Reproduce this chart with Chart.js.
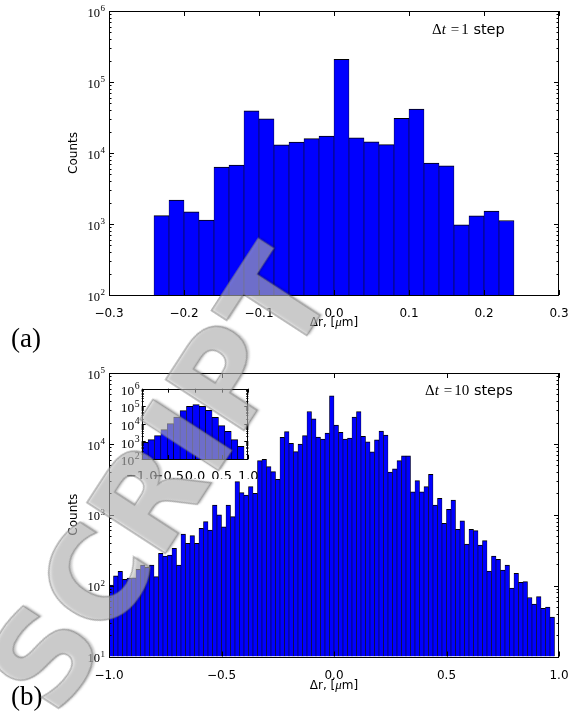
<!DOCTYPE html>
<html>
<head>
<meta charset="utf-8">
<script src="https://cdn.jsdelivr.net/npm/chart.js@4.4.1/dist/chart.umd.min.js"></script>
<style>
  html, body { margin: 0; padding: 0; background: #fff; }
  #page { position: relative; width: 580px; height: 714px; overflow: hidden; background: #fff; }
  #page canvas { position: absolute; left: 0; top: 0; }
  #stamp {
    position: absolute; left: 160px; top: 480px;
    transform: translate(-50%, -50%) rotate(-57deg);
    font: bold 128px "DejaVu Sans"; line-height: 1; white-space: nowrap;
    color: rgba(200, 200, 200, 0.55);
    -webkit-text-stroke: 1.5px rgba(120, 120, 120, 0.55);
    text-shadow: 2px 2px 2px rgba(0, 0, 0, 0.2);
    pointer-events: none;
  }
</style>
</head>
<body>
<div id="page">
  <canvas id="histB" width="580" height="714"></canvas>
  <canvas id="histInset" width="580" height="714"></canvas>
  <canvas id="histA" width="580" height="714"></canvas>
  <div id="stamp">SCRIPT</div>
</div>
<script>
// (a) one step: 24 bins of 0.02 starting at -0.24
var stepOneStart = -0.24, stepOneWidth = 0.02;
var stepOneCounts = [1310, 2180, 1480, 1140, 6350, 6780, 39400, 30400, 13000, 14300, 15900, 17300,
                     208000, 16300, 14400, 13100, 30800, 41700, 7220, 6620, 970, 1300, 1520, 1120];
var stepOneXTicks = [-0.3, -0.2, -0.1, 0.0, 0.1, 0.2, 0.3];
var stepOneYTicks = [1e2, 1e3, 1e4, 1e5, 1e6];

// (b) ten steps: bins of 0.02 starting at -1.0
var stepTenStart = -1.0, stepTenWidth = 0.02;
var stepTenCounts = [
  102, 137, 159, 123, 128, 129, 170, 195, 181, 195,
  134, 286, 262, 270, 336, 195, 535, 395, 507, 395,
  644, 798, 609, 1370, 1000, 678, 1370, 939, 2930, 2050,
  1900, 2490, 2010, 5800, 6050, 4770, 4050, 3160, 12400, 14900,
  10200, 7760, 9950, 13100, 28600, 22500, 12500, 11700, 14200, 47600,
  18400, 14600, 11700, 12100, 23800, 28500, 12800, 10700, 7700, 11400,
  15200, 13300, 4000, 4430, 5800, 6800, 6780, 2110, 3030, 2110,
  2490, 3720, 1370, 1710, 757, 1190, 1610, 623, 824, 386,
  623, 596, 374, 431, 161, 262, 235, 166, 195, 92,
  149, 111, 114, 68, 55, 70, 48, 50, 36
];
var stepTenXTicks = [-1.0, -0.5, 0.0, 0.5, 1.0];
var stepTenYTicks = [1e1, 1e2, 1e3, 1e4, 1e5];

// inset of (b): coarse bins of 0.12
var insetStart = -1.0, insetWidth = 0.12;
var insetCounts = [890, 1260, 2130, 4660, 10200, 24500, 56100, 98900,
                   123000, 98900, 58600, 23400, 7870, 3740, 1260, 525];
var insetXTicks = [-1.0, -0.5, 0.0, 0.5, 1.0];
var insetYTicks = [1e2, 1e3, 1e4, 1e5, 1e6];

var SANS = 'DejaVu Sans';
var SERIF = 'Liberation Serif';

function toBars(start, width, counts) {
  return counts.map(function (c, i) {
    return { x: start + width * (i + 0.5), y: c };
  });
}

function fmtX(v) {
  var s = Math.abs(v).toFixed(1);
  return v < -1e-9 ? '\u2212' + s : s;
}

// inward ticks on all four sides, the axes box and the 10^n labels
var framePlugin = {
  id: 'frame',
  afterDatasetsDraw: function (chart, args, opts) {
    var ctx = chart.ctx, a = chart.chartArea;
    var xs = chart.scales.x, ys = chart.scales.y;
    var L = opts.major, l = opts.minor;
    ctx.save();
    ctx.strokeStyle = '#000';
    ctx.lineWidth = 1;
    ctx.beginPath();
    xs.ticks.forEach(function (t) {
      var px = Math.round(xs.getPixelForValue(t.value)) + 0.5;
      ctx.moveTo(px, a.top); ctx.lineTo(px, a.top + L);
      ctx.moveTo(px, a.bottom); ctx.lineTo(px, a.bottom - L);
    });
    ys.ticks.forEach(function (t) {
      var py = Math.round(ys.getPixelForValue(t.value)) + 0.5;
      ctx.moveTo(a.left, py); ctx.lineTo(a.left + L, py);
      ctx.moveTo(a.right, py); ctx.lineTo(a.right - L, py);
    });
    var e0 = Math.floor(Math.log10(ys.min)), e1 = Math.ceil(Math.log10(ys.max));
    for (var e = e0; e < e1; e++) {
      for (var k = 2; k <= 9; k++) {
        var v = k * Math.pow(10, e);
        if (v <= ys.min || v >= ys.max) continue;
        var py = Math.round(ys.getPixelForValue(v)) + 0.5;
        ctx.moveTo(a.left, py); ctx.lineTo(a.left + l, py);
        ctx.moveTo(a.right, py); ctx.lineTo(a.right - l, py);
      }
    }
    ctx.stroke();
    ctx.strokeRect(Math.round(a.left) + 0.5, Math.round(a.top) + 0.5,
                   Math.round(a.right) - Math.round(a.left) - 1, Math.round(a.bottom) - Math.round(a.top));

    // decade labels: "10" with a raised exponent
    var fs = opts.labelSize, es = fs * 0.72;
    ctx.fillStyle = '#000';
    ctx.textAlign = 'right';
    ctx.textBaseline = 'alphabetic';
    ys.ticks.forEach(function (t) {
      var py = ys.getPixelForValue(t.value);
      var exp = String(Math.round(Math.log10(t.value)));
      var right = a.left - opts.labelPad;
      var base = py + fs * 0.45;
      ctx.font = es + 'px "' + SERIF + '"';
      ctx.fillText(exp, right, base - fs * 0.42);
      var ew = ctx.measureText(exp).width;
      ctx.font = fs + 'px "' + SERIF + '"';
      ctx.fillText('10', right - ew - 0.5, base);
    });
    ctx.restore();
  }
};

function drawRuns(ctx, runs, x, y) {
  runs.forEach(function (r) {
    if (r.gap) { x += r.gap; return; }
    ctx.font = r.font;
    ctx.fillText(r.text, x, y);
    x += ctx.measureText(r.text).width;
  });
  return x;
}

function runsWidth(ctx, runs) {
  var w = 0;
  runs.forEach(function (r) {
    if (r.gap) { w += r.gap; return; }
    ctx.font = r.font;
    w += ctx.measureText(r.text).width;
  });
  return w;
}

// axis titles, panel tag and the time-lag note
var notesPlugin = {
  id: 'notes',
  afterDraw: function (chart, args, opts) {
    if (!opts || !opts.tag) return;
    var ctx = chart.ctx, a = chart.chartArea;
    ctx.save();
    ctx.fillStyle = '#000';
    ctx.textBaseline = 'alphabetic';

    // y title
    ctx.save();
    ctx.translate(opts.countsX, (a.top + a.bottom) / 2);
    ctx.rotate(-Math.PI / 2);
    ctx.font = '12px "' + SANS + '"';
    ctx.textAlign = 'center';
    ctx.fillText('Counts', 0, 0);
    ctx.restore();

    // x title: Δr, [μm]
    var xt = [
      { text: '\u0394r, [', font: '12px "' + SANS + '"' },
      { text: '\u03bc', font: 'italic 13px "' + SERIF + '"' },
      { text: 'm]', font: '12px "' + SANS + '"' }
    ];
    ctx.textAlign = 'left';
    drawRuns(ctx, xt, (a.left + a.right) / 2 - runsWidth(ctx, xt) / 2, opts.titleY);

    // panel tag
    ctx.font = '27px "' + SERIF + '"';
    ctx.fillText(opts.tag, opts.tagX, opts.tagY);

    // Δt = n step(s)
    var note = [
      { text: '\u0394', font: '15px "' + SERIF + '"' },
      { text: 't', font: 'italic 15px "' + SERIF + '"' },
      { gap: 5 },
      { text: '=', font: '15px "' + SERIF + '"' },
      { gap: 2 },
      { text: opts.lag, font: '15px "' + SERIF + '"' },
      { text: ' ' + opts.unit, font: '14.5px "' + SANS + '"' }
    ];
    drawRuns(ctx, note, opts.noteX, opts.noteY);
    ctx.restore();
  }
};

function makeHist(id, cfg) {
  return new Chart(document.getElementById(id), {
    type: 'bar',
    data: {
      datasets: [{
        data: toBars(cfg.start, cfg.width, cfg.counts),
        backgroundColor: '#0000ff',
        borderColor: '#000000',
        borderWidth: { top: 1, left: 0.6, right: 0.6, bottom: 0 },
        borderSkipped: 'start',
        barPercentage: 1,
        categoryPercentage: 1
      }]
    },
    options: {
      responsive: false,
      animation: false,
      devicePixelRatio: 1,
      layout: { padding: cfg.padding },
      plugins: {
        legend: { display: false },
        tooltip: { enabled: false },
        frame: { major: cfg.major, minor: cfg.minor, labelSize: cfg.labelSize, labelPad: cfg.yPad },
        notes: cfg.notes || {}
      },
      scales: {
        x: {
          type: 'linear',
          min: cfg.xTicks[0],
          max: cfg.xTicks[cfg.xTicks.length - 1],
          offset: false,
          grid: { display: false },
          border: { display: false },
          afterBuildTicks: function (s) { s.ticks = cfg.xTicks.map(function (v) { return { value: v }; }); },
          afterFit: function (s) { s.height = cfg.xAxisHeight; },
          ticks: {
            autoSkip: false, maxRotation: 0, minRotation: 0,
            padding: cfg.xPad, color: '#000',
            font: { family: SANS, size: cfg.fontSize },
            callback: function (v) { return fmtX(v); }
          }
        },
        y: {
          type: 'logarithmic',
          min: cfg.yTicks[0],
          max: cfg.yTicks[cfg.yTicks.length - 1],
          grid: { display: false },
          border: { display: false },
          afterBuildTicks: function (s) { s.ticks = cfg.yTicks.map(function (v) { return { value: v }; }); },
          afterFit: function (s) { s.width = cfg.yAxisWidth; },
          ticks: { display: false }
        }
      }
    },
    plugins: [framePlugin, notesPlugin]
  });
}

makeHist('histB', {
  start: stepTenStart, width: stepTenWidth, counts: stepTenCounts,
  xTicks: stepTenXTicks, yTicks: stepTenYTicks,
  padding: { left: 0, right: 21, top: 373, bottom: 27.5 },
  yAxisWidth: 109, xAxisHeight: 30, xPad: 4, yPad: 4, fontSize: 12, labelSize: 12.5,
  major: 5, minor: 2.5,
  notes: { countsX: 76.5, titleY: 689, tag: '(b)', tagX: 11, tagY: 705,
           lag: '10', unit: 'steps', noteX: 425, noteY: 395 }
});

makeHist('histInset', {
  start: insetStart, width: insetWidth, counts: insetCounts,
  xTicks: insetXTicks, yTicks: insetYTicks,
  padding: { left: 0, right: 331.7, top: 388.7, bottom: 235 },
  yAxisWidth: 141.7, xAxisHeight: 20, xPad: 2, yPad: 2, fontSize: 13, labelSize: 13.5,
  major: 4, minor: 2
});

makeHist('histA', {
  start: stepOneStart, width: stepOneWidth, counts: stepOneCounts,
  xTicks: stepOneXTicks, yTicks: stepOneYTicks,
  padding: { left: 0, right: 21, top: 11, bottom: 389 },
  yAxisWidth: 109, xAxisHeight: 30, xPad: 4, yPad: 4, fontSize: 12, labelSize: 12.5,
  major: 5, minor: 2.5,
  notes: { countsX: 76.5, titleY: 326, tag: '(a)', tagX: 11, tagY: 347,
           lag: '1', unit: 'step', noteX: 432, noteY: 33.5 }
});
</script>
</body>
</html>
